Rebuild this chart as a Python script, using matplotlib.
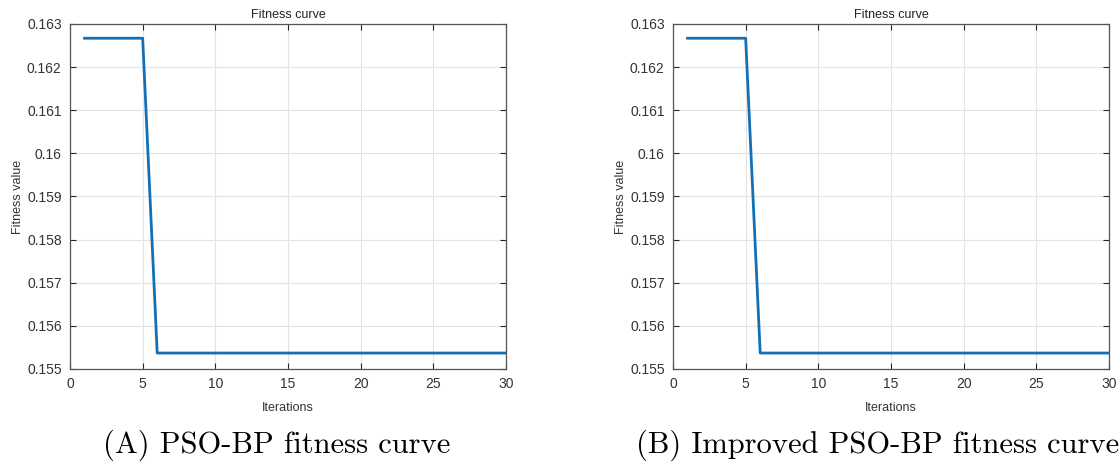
## PSO-BP vs improved PSO-BP fitness curves (MATLAB style)
import numpy as np
import matplotlib
matplotlib.use('Agg')
import matplotlib.pyplot as plt
from matplotlib.ticker import MultipleLocator

plt.rcParams['font.family'] = ['Liberation Sans', 'DejaVu Sans']

# data
iterations = list(range(1, 31))
fitness_pso = [0.16267] * 5 + [0.15537] * 25
fitness_improved = [0.16267] * 5 + [0.15537] * 25
captions = ['(A) PSO-BP fitness curve', '(B) Improved PSO-BP fitness curve']
y_ticks = [0.155, 0.156, 0.157, 0.158, 0.159, 0.16, 0.161, 0.162, 0.163]
y_ticklabels = ['0.155', '0.156', '0.157', '0.158', '0.159', '0.16', '0.161', '0.162', '0.163']
x_ticks = [0, 5, 10, 15, 20, 25, 30]

fig = plt.figure(figsize=(11.2, 4.63), dpi=100)
ax1 = fig.add_axes([70/1120, 1-369/463, 436/1120, 345/463])
ax2 = fig.add_axes([673/1120, 1-369/463, 436/1120, 345/463])
cap_x = [103/1120, 636/1120]

for j, (ax, y, cap) in enumerate(zip([ax1, ax2], [fitness_pso, fitness_improved], captions)):
    ax.plot(iterations, y, color='#1470b5', lw=2)
    ax.set_xlim(0, 30)
    ax.set_ylim(0.155, 0.163)
    ax.set_xticks(x_ticks)
    ax.set_yticks(y_ticks)
    ax.set_yticklabels(y_ticklabels)
    ax.grid(True, color='#e3e3e3', lw=0.8)
    ax.set_axisbelow(True)
    ax.tick_params(direction='in', top=True, right=True, length=4, width=0.8,
                   labelsize=10, colors='#262626', labelcolor='#333333', pad=6)
    for s in ax.spines.values():
        s.set_color('#555555')
        s.set_linewidth(0.9)
    ax.set_title('Fitness curve', fontsize=9, color='#222222', pad=4)
    ax.set_ylabel('Fitness value', fontsize=9, color='#333333', labelpad=2)
    ax.set_xlabel('Iterations', fontsize=9, color='#333333', labelpad=8)
    fig.text(cap_x[j], 1-445/463, cap, ha='left', va='center',
             fontsize=22, family='cmr10', color='black')

plt.savefig('out.png', dpi=100)
